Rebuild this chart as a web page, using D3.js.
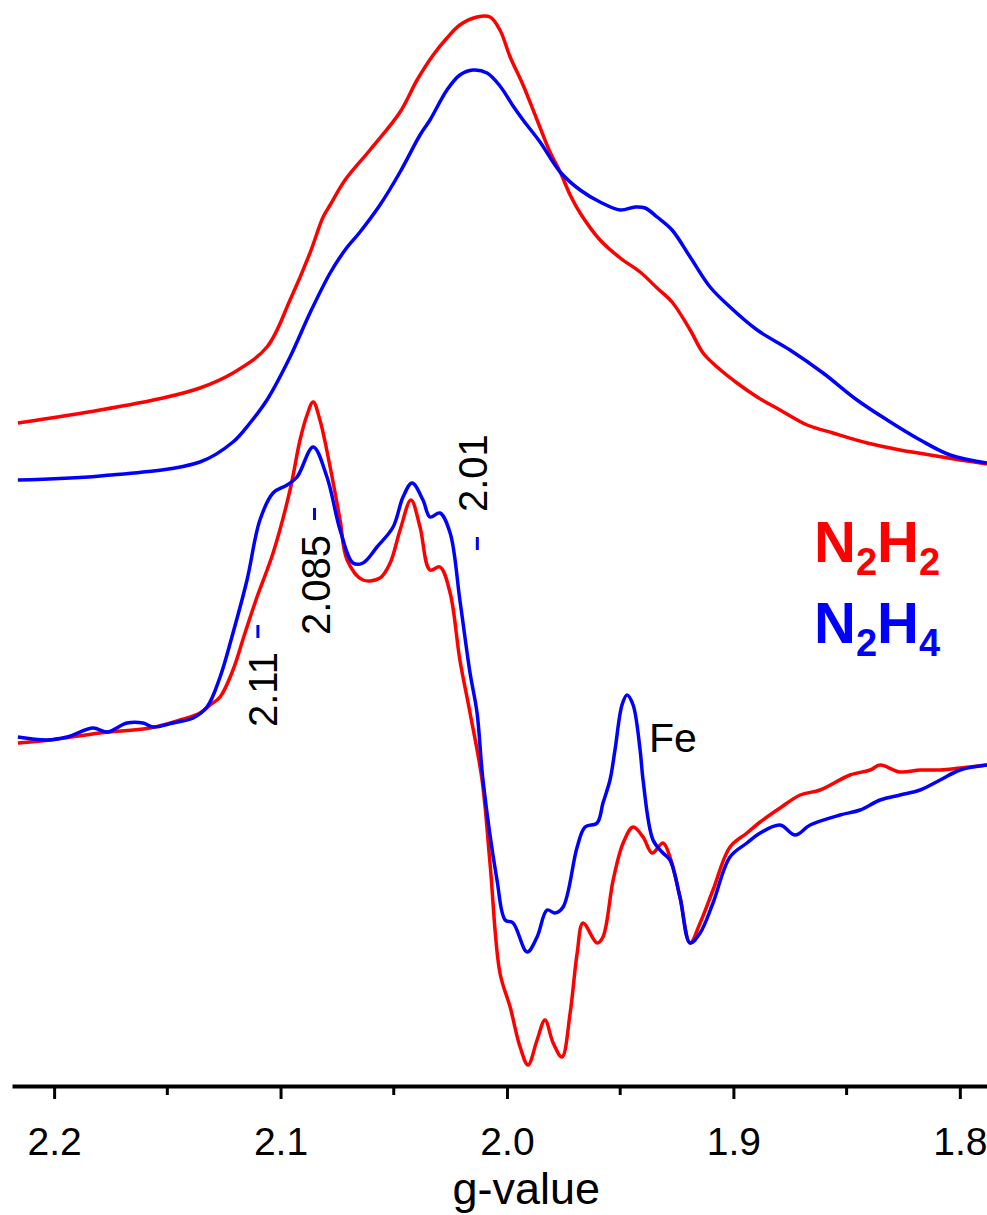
<!DOCTYPE html>
<html>
<head>
<meta charset="utf-8">
<script src="https://cdn.jsdelivr.net/npm/d3@7"></script>
<style>
  body { margin: 0; background: #fff; }
  svg { display: block; font-family: "Liberation Sans", Arial, sans-serif; }
</style>
</head>
<body>
<div id="chart"></div>
<script>
// g-values (x) and intensities (a.u.)
const gAbsN2H2 = [2.2160, 2.1797, 2.1519, 2.1356, 2.1210, 2.1060, 2.0958, 2.0870, 2.0812, 2.0781, 2.0715, 2.0605, 2.0472, 2.0397, 2.0326, 2.0265, 2.0208, 2.0132, 2.0075, 2.0031, 1.9986, 1.9929, 1.9867, 1.9810, 1.9765, 1.9721, 1.9677, 1.9589, 1.9500, 1.9412, 1.9337, 1.9271, 1.9191, 1.9134, 1.9072, 1.8984, 1.8895, 1.8794, 1.8674, 1.8560, 1.8409, 1.8264, 1.8131, 1.7999, 1.7880];
const absN2H2 = [66.3, 67.6, 68.8, 69.8, 71.3, 73.9, 78.6, 83.3, 86.9, 88.1, 90.6, 93.6, 97.4, 100.6, 103.1, 104.8, 106.1, 106.9, 106.9, 105.6, 102.9, 100.1, 96.6, 93.4, 91.4, 89.1, 87.3, 84.6, 82.8, 81.4, 79.8, 78.4, 75.6, 73.3, 71.9, 70.3, 68.9, 67.6, 66.1, 65.3, 64.3, 63.6, 63.1, 62.6, 62.2];

const gAbsN2H4 = [2.2160, 2.1797, 2.1356, 2.1210, 2.1135, 2.1060, 2.0958, 2.0870, 2.0781, 2.0715, 2.0649, 2.0561, 2.0472, 2.0384, 2.0340, 2.0265, 2.0208, 2.0150, 2.0088, 2.0031, 1.9973, 1.9929, 1.9854, 1.9765, 1.9677, 1.9589, 1.9500, 1.9434, 1.9390, 1.9337, 1.9271, 1.9191, 1.9103, 1.9015, 1.8895, 1.8750, 1.8604, 1.8454, 1.8321, 1.8175, 1.8043, 1.7880];
const absN2H4 = [60.6, 61.0, 62.4, 64.4, 66.3, 68.6, 72.9, 77.3, 81.3, 83.6, 85.4, 88.1, 91.4, 95.1, 96.6, 99.6, 101.1, 101.6, 101.3, 100.0, 98.0, 96.6, 94.4, 91.4, 89.6, 88.4, 87.6, 87.9, 87.8, 86.9, 85.6, 82.9, 79.9, 77.9, 75.6, 73.6, 71.3, 68.6, 66.6, 64.6, 63.1, 62.3];

const gDerN2H2 = [2.2160, 2.2018, 2.1797, 2.1576, 2.1444, 2.1356, 2.1311, 2.1267, 2.1210, 2.1157, 2.1104, 2.1033, 2.0958, 2.0914, 2.0883, 2.0856, 2.0826, 2.0781, 2.0737, 2.0706, 2.0636, 2.0561, 2.0516, 2.0472, 2.0424, 2.0384, 2.0340, 2.0296, 2.0251, 2.0208, 2.0163, 2.0110, 2.0075, 2.0031, 1.9986, 1.9942, 1.9907, 1.9867, 1.9832, 1.9796, 1.9757, 1.9721, 1.9690, 1.9664, 1.9602, 1.9576, 1.9531, 1.9487, 1.9443, 1.9399, 1.9359, 1.9311, 1.9280, 1.9236, 1.9191, 1.9147, 1.9090, 1.9015, 1.8940, 1.8882, 1.8794, 1.8705, 1.8617, 1.8485, 1.8396, 1.8352, 1.8264, 1.8175, 1.8087, 1.7999, 1.7880];
const derN2H2 = [34.3, 34.6, 35.3, 35.8, 36.6, 37.3, 38.1, 38.9, 41.6, 45.3, 48.9, 53.3, 59.6, 64.6, 67.1, 68.4, 66.6, 61.9, 56.6, 52.6, 50.6, 50.8, 52.3, 55.6, 58.6, 55.9, 51.6, 51.9, 49.3, 42.6, 37.3, 30.6, 22.3, 11.3, 7.9, 3.9, 2.1, 4.6, 6.6, 4.3, 2.9, 7.3, 13.3, 16.3, 14.3, 14.9, 20.6, 24.3, 25.9, 24.9, 23.3, 24.3, 22.9, 18.9, 14.3, 16.3, 19.6, 23.9, 25.3, 26.4, 27.8, 29.1, 29.6, 31.1, 31.6, 32.1, 31.4, 31.6, 31.6, 31.8, 32.1];

const gDerN2H4 = [2.2160, 2.2031, 2.1943, 2.1828, 2.1766, 2.1678, 2.1607, 2.1563, 2.1475, 2.1386, 2.1325, 2.1267, 2.1210, 2.1148, 2.1091, 2.1033, 2.0971, 2.0927, 2.0856, 2.0795, 2.0737, 2.0680, 2.0636, 2.0574, 2.0503, 2.0459, 2.0419, 2.0371, 2.0340, 2.0296, 2.0251, 2.0208, 2.0163, 2.0132, 2.0106, 2.0044, 2.0008, 1.9973, 1.9911, 1.9867, 1.9823, 1.9788, 1.9752, 1.9690, 1.9655, 1.9602, 1.9576, 1.9545, 1.9523, 1.9492, 1.9470, 1.9443, 1.9412, 1.9399, 1.9355, 1.9311, 1.9280, 1.9236, 1.9191, 1.9147, 1.9090, 1.9015, 1.8940, 1.8882, 1.8794, 1.8727, 1.8661, 1.8529, 1.8440, 1.8352, 1.8264, 1.8175, 1.8087, 1.7999, 1.7880];
const derN2H4 = [34.9, 34.6, 34.9, 35.8, 35.4, 36.3, 36.3, 35.9, 36.3, 36.8, 37.9, 40.9, 45.3, 50.6, 56.6, 59.3, 60.1, 60.9, 63.9, 60.9, 55.6, 52.3, 52.3, 53.9, 55.9, 58.9, 60.3, 58.6, 56.9, 57.3, 55.3, 48.6, 41.3, 37.3, 30.6, 20.6, 16.6, 16.3, 13.4, 14.9, 17.6, 17.3, 17.9, 23.9, 25.9, 26.3, 28.3, 30.6, 33.6, 38.1, 39.1, 38.1, 33.6, 30.6, 24.6, 23.3, 22.6, 18.9, 14.3, 15.3, 18.3, 22.9, 24.3, 25.3, 26.1, 25.1, 26.1, 27.1, 27.6, 28.6, 29.1, 29.6, 30.6, 31.6, 32.1];

const majorTicks = [2.2, 2.1, 2.0, 1.9, 1.8];
const minorTicks = [2.15, 2.05, 1.95, 1.85];

// marked g-values
const markLabels = ["2.11", "2.085", "2.01"];
const markG = [2.11, 2.085, 2.01];

const width = 987,
    height = 1215,
    margin = ({ top: 0, right: 0, bottom: 129, left: 12 });

const svg = d3.select("#chart")
    .append("svg")
    .attr("width", width)
    .attr("height", height);

// x scale: g-value decreases to the right
let x = d3.scaleLinear()
    .domain([2.2186, 1.788])
    .range([margin.left, width]);

let y = d3.scaleLinear()
    .domain([0, 108.6])
    .range([height - margin.bottom, 0]);

let line = d3.line()
    .x(d => x(d[0]))
    .y(d => y(d[1]))
    .curve(d3.curveCatmullRom.alpha(0.5));

const series = [
    { g: gAbsN2H2, v: absN2H2, color: "#ff0000" },
    { g: gAbsN2H4, v: absN2H4, color: "#0000ff" },
    { g: gDerN2H2, v: derN2H2, color: "#ff0000" },
    { g: gDerN2H4, v: derN2H4, color: "#0000ff" }
];

for (let s of series) {
    svg.append("path")
        .datum(s.g.map((g, i) => [g, s.v[i]]))
        .attr("fill", "none")
        .attr("stroke", s.color)
        .attr("stroke-width", 3.5)
        .attr("stroke-linejoin", "round")
        .attr("d", line);
}

// Add x-axis
const axisY = height - margin.bottom;
const gx = svg.append("g")
    .attr("transform", `translate(0,${axisY})`)
    .call(d3.axisBottom(x)
        .tickValues(majorTicks)
        .tickFormat(d3.format(".1f"))
        .tickSize(13)
        .tickSizeOuter(0));

gx.select(".domain").attr("stroke", "#000").attr("stroke-width", 4);
gx.selectAll(".tick line").attr("stroke-width", 3);
gx.selectAll(".tick text")
    .attr("y", 41)
    .attr("dy", "0.71em")
    .attr("font-size", 39)
    .attr("font-family", "'Liberation Sans', Arial, sans-serif")
    .attr("fill", "#000");

// minor ticks
gx.selectAll(".minor")
    .data(minorTicks)
    .join("line")
    .attr("class", "minor")
    .attr("x1", d => x(d))
    .attr("x2", d => x(d))
    .attr("y1", 0)
    .attr("y2", 9)
    .attr("stroke", "#000")
    .attr("stroke-width", 3);

// x-axis label
svg.append("text")
    .attr("text-anchor", "middle")
    .attr("x", x(1.9915))
    .attr("y", 1204)
    .attr("font-size", 45)
    .text("g-value");

// marked g-values (rotated labels with blue dashes)
const markTextX = [19, 15, 3];
const markTextY = [727, 635, 512];
const markDashY = [[625, 638], [508, 520], [537, 550]];
const markDashDx = [0, 0, -7];

markLabels.forEach((lab, i) => {
    svg.append("text")
        .attr("transform", `translate(${x(markG[i]) + markTextX[i]},${markTextY[i]}) rotate(-90)`)
        .attr("font-size", 40)
        .text(lab);
    svg.append("line")
        .attr("x1", x(markG[i]) + markDashDx[i])
        .attr("x2", x(markG[i]) + markDashDx[i])
        .attr("y1", markDashY[i][0])
        .attr("y2", markDashY[i][1])
        .attr("stroke", "#0000ff")
        .attr("stroke-width", 3);
});

// Fe label
svg.append("text")
    .attr("x", 649)
    .attr("y", 752)
    .attr("font-size", 41)
    .text("Fe");

// legend
const legend = [
    { main: ["N", "H"], sub: ["2", "2"], color: "#ff0000", y: 562 },
    { main: ["N", "H"], sub: ["2", "4"], color: "#0000ff", y: 643 }
];

for (let l of legend) {
    let t = svg.append("text")
        .attr("x", 814)
        .attr("y", l.y)
        .attr("fill", l.color)
        .attr("font-weight", "bold")
        .attr("font-size", 58);
    t.append("tspan").text(l.main[0]);
    t.append("tspan").attr("font-size", 38).attr("dy", 13).text(l.sub[0]);
    t.append("tspan").attr("dy", -13).text(l.main[1]);
    t.append("tspan").attr("font-size", 38).attr("dy", 13).text(l.sub[1]);
}
</script>
</body>
</html>
